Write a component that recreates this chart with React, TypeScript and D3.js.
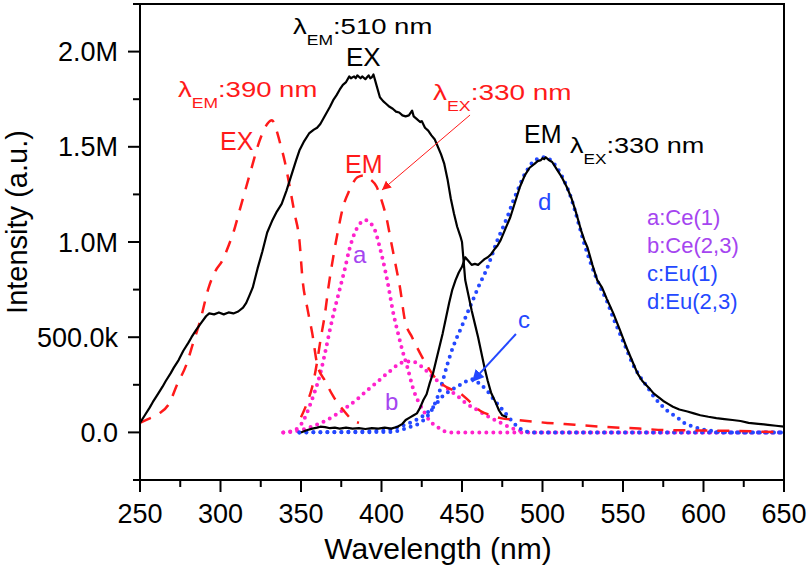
import * as d3 from "d3";

type Pt = [number, number];

// wavelength (nm), intensity (millions)
const exBlack: Pt[] = [
  [250, 0.05], [253, 0.09], [256, 0.13], [258, 0.16], [261, 0.2], [264, 0.24], [266, 0.27], [269, 0.31],
  [271, 0.34], [274, 0.38], [277, 0.43], [280, 0.47], [282, 0.5], [285, 0.54], [288, 0.575], [291, 0.61],
  [293, 0.625], [296, 0.62], [299, 0.63], [302, 0.62], [305, 0.63], [308, 0.625], [311, 0.635], [314, 0.655],
  [316, 0.68], [318, 0.72], [320, 0.76], [323, 0.86], [326, 0.95], [329, 1.05], [332, 1.11], [335, 1.16],
  [338, 1.2], [341, 1.27], [344, 1.35], [347, 1.43], [349, 1.48], [352, 1.53], [355, 1.57], [358, 1.59],
  [360, 1.6], [362, 1.62], [364, 1.65], [366, 1.68], [368, 1.71], [370, 1.745], [372, 1.77], [374, 1.8],
  [376, 1.825], [378, 1.84], [380, 1.87], [381, 1.86], [383, 1.87], [384, 1.86], [385, 1.875], [387, 1.86],
  [388, 1.87], [390, 1.855], [391, 1.865], [392, 1.875], [393, 1.86], [394, 1.865], [395, 1.88], [396, 1.85],
  [397, 1.82], [399, 1.76], [401, 1.74], [403, 1.725], [405, 1.71], [407, 1.7], [409, 1.685], [411, 1.68],
  [413, 1.665], [415, 1.66], [417, 1.665], [419, 1.69], [420, 1.66], [422, 1.645], [424, 1.63], [425, 1.635],
  [427, 1.6], [429, 1.585], [431, 1.56], [433, 1.54], [435, 1.5], [437, 1.46], [439, 1.41], [441, 1.33],
  [443, 1.23], [445, 1.15], [447, 1.08], [449, 1.03], [450, 1.0], [451, 0.9], [452, 0.8], [454, 0.72],
  [456, 0.64], [458, 0.57], [460, 0.5], [462, 0.42], [464, 0.34], [466, 0.27], [468, 0.21], [471, 0.155],
  [473, 0.115], [475, 0.09], [478, 0.08],
];

const emBlack: Pt[] = [
  [350, 0.0], [353, 0.01], [357, 0.02], [360, 0.025], [362, 0.03], [365, 0.028], [368, 0.022], [371, 0.025],
  [374, 0.02], [378, 0.025], [382, 0.02], [386, 0.022], [390, 0.018], [394, 0.022], [398, 0.02], [402, 0.025],
  [406, 0.02], [410, 0.03], [413, 0.045], [415, 0.065], [418, 0.08], [420, 0.09], [422, 0.1], [424, 0.13],
  [426, 0.17], [428, 0.2], [430, 0.26], [432, 0.31], [434, 0.38], [436, 0.45], [438, 0.52], [440, 0.6],
  [442, 0.68], [444, 0.75], [446, 0.8], [448, 0.84], [450, 0.87], [452, 0.92], [454, 0.9], [456, 0.88],
  [458, 0.885], [460, 0.88], [462, 0.895], [464, 0.91], [466, 0.92], [468, 0.935], [470, 0.96], [472, 0.98],
  [474, 1.01], [477, 1.07], [480, 1.13], [483, 1.21], [486, 1.29], [489, 1.35], [492, 1.39], [495, 1.41],
  [497, 1.425], [499, 1.43], [500, 1.44], [501, 1.435], [502, 1.445], [504, 1.43], [506, 1.42], [509, 1.38],
  [512, 1.34], [515, 1.29], [518, 1.23], [521, 1.15], [524, 1.06], [526, 1.01], [528, 0.97], [531, 0.88],
  [534, 0.8], [537, 0.76], [540, 0.7], [544, 0.625], [548, 0.54], [552, 0.45], [556, 0.37], [559, 0.31],
  [562, 0.27], [566, 0.235], [569, 0.205], [572, 0.185], [575, 0.165], [578, 0.15], [581, 0.135], [585, 0.12],
  [590, 0.11], [594, 0.1], [598, 0.09], [603, 0.082], [608, 0.075], [613, 0.07], [618, 0.065], [623, 0.06],
  [628, 0.05], [634, 0.045], [640, 0.04], [645, 0.035], [650, 0.03],
];

const exRed: Pt[] = [
  [250, 0.05], [255, 0.07], [262, 0.1], [268, 0.15], [273, 0.25], [279, 0.36], [283, 0.47], [287, 0.575],
  [293, 0.77], [297, 0.85], [301, 0.9], [305, 0.98], [308, 1.05], [312, 1.17], [316, 1.29], [320, 1.41],
  [323, 1.5], [326, 1.57], [329, 1.62], [332, 1.64], [335, 1.58], [337, 1.52], [340, 1.42], [343, 1.29],
  [346, 1.15], [349, 1.01], [351, 0.8], [354, 0.65], [357, 0.52], [360, 0.36], [365, 0.27], [370, 0.19],
  [376, 0.12], [382, 0.065], [386, 0.05],
];

const emRed: Pt[] = [
  [350, 0.08], [354, 0.16], [357, 0.24], [360, 0.37], [362, 0.48], [365, 0.63], [367, 0.76], [370, 0.92],
  [373, 1.06], [376, 1.18], [380, 1.27], [385, 1.34], [389, 1.35], [393, 1.33], [397, 1.29], [400, 1.22],
  [403, 1.13], [406, 1.0], [409, 0.87], [411.5, 0.76], [414.5, 0.59], [419, 0.5], [424, 0.415], [429, 0.34],
  [434.5, 0.275], [441, 0.235], [449, 0.205], [455, 0.16], [461, 0.115], [468, 0.09], [474, 0.075],
  [485, 0.065], [503, 0.05], [520, 0.04], [536, 0.03], [560, 0.02], [577, 0.012], [600, 0.01], [618, 0.008],
  [650, 0.0],
];

const ceA: Pt[] = [
  [339, 0], [345, 0.01], [349, 0.03], [352, 0.07], [355, 0.13], [358, 0.2], [362, 0.31], [365, 0.42],
  [368, 0.54], [371, 0.65], [374, 0.75], [377, 0.85], [380, 0.96], [383, 1.04], [386, 1.09], [390, 1.115],
  [393, 1.1], [396, 1.06], [399, 0.97], [401, 0.9], [404, 0.78], [407, 0.64], [410, 0.53], [413, 0.43],
  [416, 0.345], [420, 0.22], [423, 0.16], [426, 0.115], [430, 0.06], [434.5, 0.03], [438, 0.01], [442, 0],
  [500, 0], [650, 0],
];

const ceB: Pt[] = [
  [339, 0], [349, 0.01], [358, 0.035], [366, 0.065], [372, 0.095], [378, 0.13], [385, 0.175], [391, 0.22],
  [398, 0.27], [405, 0.32], [411, 0.36], [415, 0.372], [420, 0.37], [425, 0.345], [432, 0.29], [437, 0.255],
  [442.5, 0.22], [448, 0.185], [453, 0.15], [458, 0.125], [463, 0.1], [468, 0.075], [474, 0.05], [479, 0.03],
  [484, 0.012], [490, 0.004], [494, 0], [650, 0],
];

const euC: Pt[] = [
  [349, 0], [400, 0.008], [411, 0.03], [420, 0.06], [428, 0.1], [433, 0.14], [438, 0.19], [443, 0.22],
  [447, 0.24], [451, 0.26], [456, 0.28], [461, 0.255], [465.5, 0.22], [470, 0.17], [473.6, 0.135], [478, 0.09],
  [482, 0.05], [486, 0.02], [490, 0.005], [495, 0], [650, 0],
];

const euD: Pt[] = [
  [349, 0], [405, 0.002], [411, 0.01], [418, 0.03], [424, 0.05], [428, 0.08], [432, 0.13], [435, 0.19],
  [438, 0.27], [441, 0.36], [444.5, 0.45], [449, 0.54], [453, 0.62], [457, 0.7], [461, 0.78], [465, 0.85],
  [469, 0.94], [472, 1.01], [475.6, 1.08], [479, 1.15], [482, 1.22], [485, 1.28], [488, 1.34], [491, 1.385],
  [494, 1.42], [498, 1.44], [501.5, 1.445], [505, 1.43], [509, 1.39], [513, 1.33], [517, 1.25], [520, 1.17],
  [523, 1.08], [526, 0.99], [529.5, 0.9], [533, 0.82], [536, 0.76], [540, 0.69], [544, 0.6], [548, 0.52],
  [552, 0.44], [556, 0.36], [560, 0.3], [565, 0.24], [569, 0.19], [573, 0.15], [578, 0.11], [583.5, 0.08],
  [588, 0.05], [593.5, 0.03], [600, 0.015], [608, 0.005], [615, 0], [650, 0],
];

const xMajor = [250, 300, 350, 400, 450, 500, 550, 600, 650];
const xMinor = [275, 325, 375, 425, 475, 525, 575, 625];
const yMajor = [0, 0.5, 1.0, 1.5, 2.0];
const yMajorLabels = ["0.0", "500.0k", "1.0M", "1.5M", "2.0M"];
const yMinor = [-0.25, 0.25, 0.75, 1.25, 1.75, 2.25];

const legendItems = ["a:Ce(1)", "b:Ce(2,3)", "c:Eu(1)", "d:Eu(2,3)"];

const RED = "#ff1a1a";
const MAGENTA = "#ff22cc";
const BLUE = "#2448ff";
const PURPLE = "#a545f0";
const FONT = "'Liberation Sans', Arial, sans-serif";

const W = 809;
const H = 571;
const left = 140;
const right = 784;
const top = 4;
const bottom = 480;

const x = d3.scaleLinear().domain([250, 650]).range([left, right]);
const y = d3.scaleLinear().domain([-0.25, 2.25]).range([bottom, top]);

// measured spectra: straight segments between readings
const rawLine = d3
  .line<Pt>()
  .x((d) => x(d[0]))
  .y((d) => y(d[1]));

// fitted components and red spectra: smooth
const smoothLine = d3
  .line<Pt>()
  .x((d) => x(d[0]))
  .y((d) => y(d[1]))
  .curve(d3.curveMonotoneX);

// λ label with subscript, stretched horizontally like the original
function Lambda({
  px, py, sub, rest, color, sx,
}: { px: number; py: number; sub: string; rest: string; color: string; sx: number }) {
  return (
    <g transform={`translate(${px},${py}) scale(${sx},1)`}>
      <text x={0} y={0} fill={color} fontSize={22} fontFamily={FONT}>
        λ
        <tspan fontSize={14} dy={11}>{sub}</tspan>
        <tspan dy={-11}>{rest}</tspan>
      </text>
    </g>
  );
}

function Dotted({ data, color }: { data: Pt[]; color: string }) {
  return (
    <path
      d={smoothLine(data) ?? ""}
      fill="none"
      stroke={color}
      strokeWidth={4}
      strokeDasharray="0 7"
      strokeLinecap="round"
    />
  );
}

export default function App() {
  return (
    <svg
      width={W}
      height={H}
      style={{ position: "absolute", left: 0, top: 0, background: "#fff" }}
      fontFamily={FONT}
    >
      <defs>
        <marker id="arrRed" viewBox="0 0 10 10" refX="10" refY="5" markerWidth="9" markerHeight="9" markerUnits="userSpaceOnUse" orient="auto">
          <path d="M0,0 L10,5 L0,10 Z" fill={RED} />
        </marker>
        <marker id="arrBlue" viewBox="0 0 10 10" refX="10" refY="5" markerWidth="12" markerHeight="12" markerUnits="userSpaceOnUse" orient="auto">
          <path d="M0,0 L10,5 L0,10 Z" fill={BLUE} />
        </marker>
      </defs>

      {/* dotted fitted components */}
      <Dotted data={ceA} color={MAGENTA} />
      <Dotted data={ceB} color={MAGENTA} />
      <Dotted data={euC} color={BLUE} />
      <Dotted data={euD} color={BLUE} />

      {/* red dashed spectra */}
      <path d={smoothLine(exRed) ?? ""} fill="none" stroke={RED} strokeWidth={2.5} strokeDasharray="12 10" />
      <path d={smoothLine(emRed) ?? ""} fill="none" stroke={RED} strokeWidth={2.5} strokeDasharray="12 10" />

      {/* black solid spectra */}
      <path d={rawLine(exBlack) ?? ""} fill="none" stroke="#000" strokeWidth={2.2} strokeLinejoin="round" />
      <path d={rawLine(emBlack) ?? ""} fill="none" stroke="#000" strokeWidth={2.2} strokeLinejoin="round" />

      {/* frame */}
      <rect x={left} y={top} width={right - left} height={bottom - top} fill="none" stroke="#000" strokeWidth={2} />

      {/* x ticks */}
      {xMajor.map((v) => (
        <g key={"xm" + v}>
          <line x1={x(v)} x2={x(v)} y1={bottom} y2={bottom + 12} stroke="#000" strokeWidth={2} />
          <text x={x(v)} y={523} textAnchor="middle" fontSize={27}>{v}</text>
        </g>
      ))}
      {xMinor.map((v) => (
        <line key={"xn" + v} x1={x(v)} x2={x(v)} y1={bottom} y2={bottom + 7} stroke="#000" strokeWidth={2} />
      ))}

      {/* y ticks */}
      {yMajor.map((v, i) => (
        <g key={"ym" + v}>
          <line x1={left - 12} x2={left} y1={y(v)} y2={y(v)} stroke="#000" strokeWidth={2} />
          <text x={118} y={y(v) + 9.5} textAnchor="end" fontSize={27}>{yMajorLabels[i]}</text>
        </g>
      ))}
      {yMinor.map((v) => (
        <line key={"yn" + v} x1={left - 7} x2={left} y1={y(v)} y2={y(v)} stroke="#000" strokeWidth={2} />
      ))}

      {/* axis titles */}
      <text x={438} y={559} textAnchor="middle" fontSize={30}>Wavelength (nm)</text>
      <text transform="translate(27,222) rotate(-90)" textAnchor="middle" fontSize={29}>Intensity (a.u.)</text>

      {/* annotations */}
      <Lambda px={293} py={34} sub="EM" rest=":510 nm" color="#000" sx={1.25} />
      <text x={346} y={66} fontSize={26}>EX</text>

      <Lambda px={178} py={97} sub="EM" rest=":390 nm" color={RED} sx={1.25} />
      <text x={220} y={150} fontSize={25} fill={RED}>EX</text>

      <Lambda px={433} py={100} sub="EX" rest=":330 nm" color={RED} sx={1.27} />
      <text x={345} y={173} fontSize={25} fill={RED}>EM</text>
      <line x1={x(455)} y1={y(1.667)} x2={x(400.3)} y2={y(1.273)} stroke={RED} strokeWidth={1} markerEnd="url(#arrRed)" />

      <text x={524} y={143} fontSize={25}>EM</text>
      <Lambda px={570} py={153} sub="EX" rest=":330 nm" color="#000" sx={1.23} />

      <text x={538} y={210} fontSize={24} fill={BLUE}>d</text>
      <text x={353} y={263} fontSize={24} fill={PURPLE}>a</text>
      <text x={385} y={410} fontSize={24} fill={PURPLE}>b</text>
      <text x={518} y={328} fontSize={24} fill={BLUE}>c</text>
      <line x1={x(483.5)} y1={y(0.517)} x2={x(456.2)} y2={y(0.265)} stroke={BLUE} strokeWidth={2} markerEnd="url(#arrBlue)" />

      {legendItems.map((t, i) => (
        <text key={t} x={647} y={225 + i * 28} fontSize={22} fill={i < 2 ? PURPLE : BLUE}>{t}</text>
      ))}
    </svg>
  );
}
